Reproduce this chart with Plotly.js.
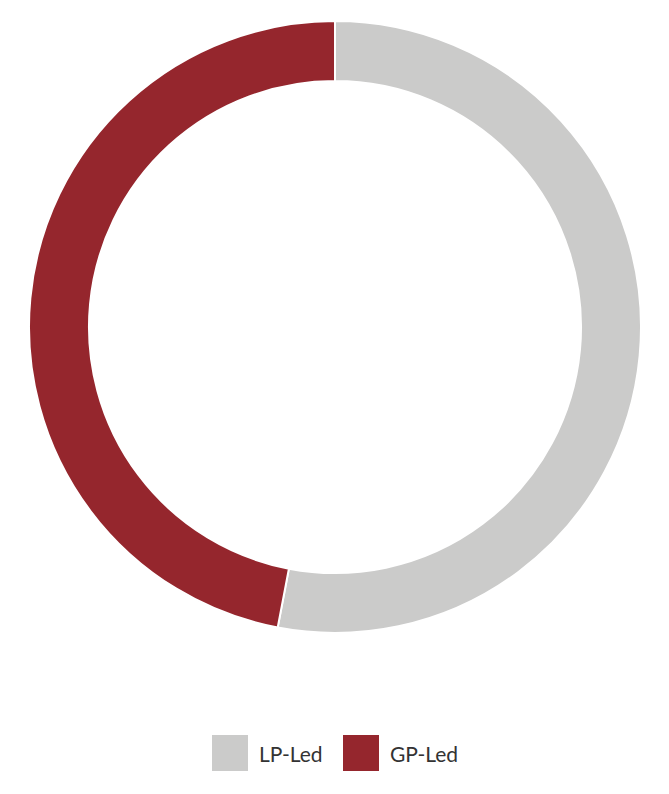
<!DOCTYPE html>
<html>
<head>
<meta charset="utf-8">
<script src="https://cdn.plot.ly/plotly-3.0.1.min.js"></script>
<style>
  html, body { margin: 0; padding: 0; background: #fff; }
  #chart { width: 669px; height: 794px; }
</style>
</head>
<body>
<div id="chart"></div>
<script>
// --- data ---
const labels = ['LP-Led', 'GP-Led'];
const shares = [53, 47];
const colors = ['#cbcbca', '#95262d'];

// --- donut ---
const trace = {
  type: 'pie',
  labels: labels,
  values: shares,
  hole: 0.804,
  sort: false,
  direction: 'clockwise',
  rotation: 0,
  textinfo: 'none',
  hoverinfo: 'label+percent',
  marker: { colors: colors, line: { color: '#ffffff', width: 2 } },
  domain: { x: [29 / 669, 641 / 669], y: [161 / 794, 773 / 794] },
  showlegend: false
};

// --- custom legend (big square swatches like the original) ---
const shapes = [];
const annotations = [];
const swatchX = [212, 343];   // px from left
labels.forEach((name, i) => {
  const x0 = swatchX[i];
  shapes.push({
    type: 'rect', xref: 'paper', yref: 'paper',
    x0: x0 / 669, x1: (x0 + 36) / 669,
    y0: (794 - 771) / 794, y1: (794 - 735) / 794,
    fillcolor: colors[i], line: { width: 0 }
  });
  annotations.push({
    xref: 'paper', yref: 'paper',
    x: (x0 + 45) / 669, y: (794 - 753) / 794,
    xanchor: 'left', yanchor: 'middle',
    text: name, showarrow: false,
    font: { family: 'Lato, sans-serif', size: 21, color: '#333333' }
  });
});

const layout = {
  width: 669,
  height: 794,
  margin: { t: 0, r: 0, b: 0, l: 0 },
  paper_bgcolor: '#ffffff',
  plot_bgcolor: '#ffffff',
  shapes: shapes,
  annotations: annotations
};

Plotly.newPlot('chart', [trace], layout, { displayModeBar: false, staticPlot: true });
</script>
</body>
</html>
